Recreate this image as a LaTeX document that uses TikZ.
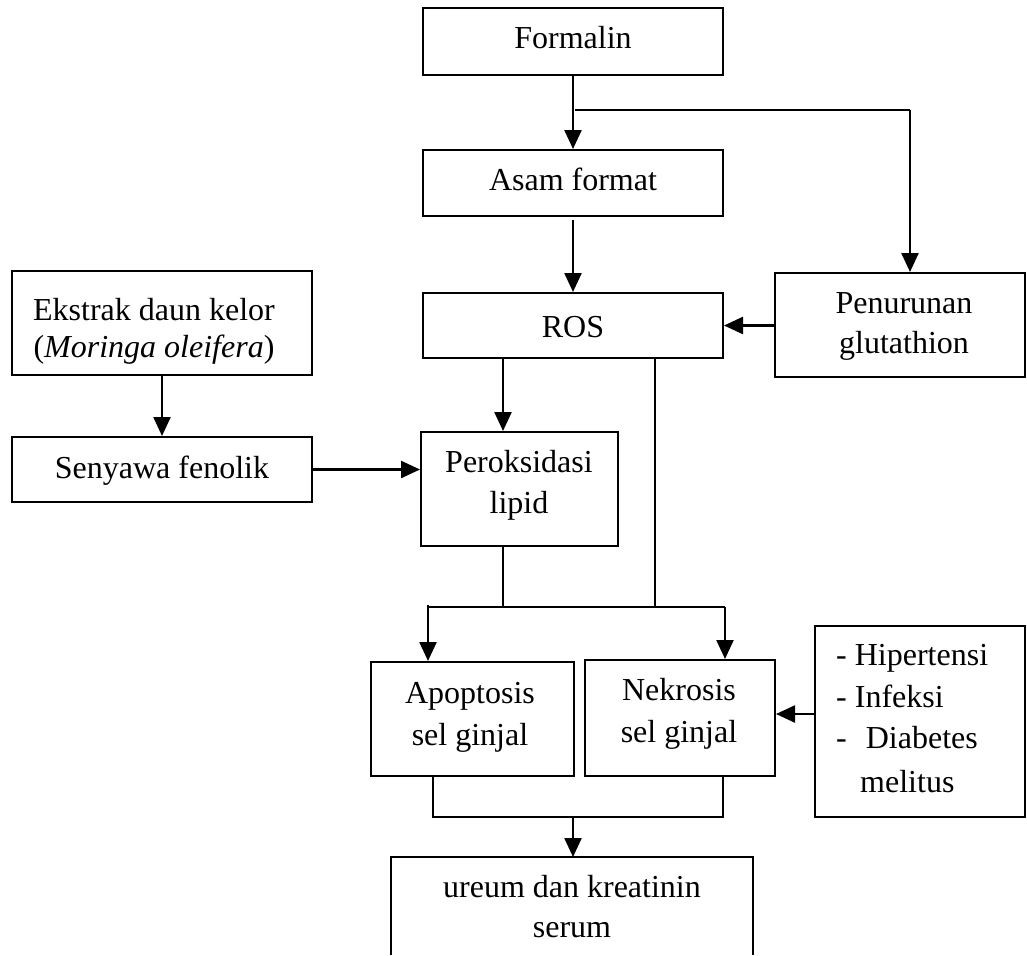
\documentclass[tikz,border=0pt]{standalone}
\usepackage{fontspec}
\setmainfont{Liberation Serif}
\usetikzlibrary{arrows.meta}
\begin{document}
\begin{tikzpicture}[x=1pt,y=-1pt,
  box/.style={draw,line width=2pt,inner sep=0pt,minimum width=#1},
  txt/.style={anchor=base,inner sep=0pt,font=\fontsize{32}{41}\selectfont},
  ltxt/.style={anchor=base west,inner sep=0pt,font=\fontsize{32}{41}\selectfont},
  arr/.style={line width=2.4pt,-{Triangle[length=19pt,width=17pt]}},
  ln/.style={line width=1.8pt}]
\useasboundingbox (0,0) rectangle (1027,955);
% boxes
\node[box=300pt,minimum height=67pt] (formalin) at (573,41.5) {};
\node[box=300pt,minimum height=66pt] (asam) at (573,183) {};
\node[box=300pt,minimum height=65pt] (ros) at (573,325.5) {};
\node[box=250pt,minimum height=104pt] (penurunan) at (900,325) {};
\node[box=300pt,minimum height=104pt] (ekstrak) at (162,323) {};
\node[box=300pt,minimum height=65pt] (senyawa) at (162,469.5) {};
\node[box=197pt,minimum height=114pt] (perok) at (519.5,489) {};
\node[box=203pt,minimum height=114pt] (apop) at (472.5,719) {};
\node[box=190pt,minimum height=116pt] (nekro) at (680,718) {};
\node[box=210pt,minimum height=191pt] (hiper) at (920,721.5) {};
\node[inner sep=0pt,minimum width=362pt,minimum height=98pt,anchor=north] (ureum) at (572,857) {};
\draw[line width=2pt] (ureum.south west) -- (ureum.north west) -- (ureum.north east) -- (ureum.south east);
% texts
\node[txt] (tformalin) at (573,49) {Formalin};
\node[txt] (tasam) at (573,190) {Asam format};
\node[txt] (tros) at (573,337) {ROS};
\node[txt] (tpen1) at (904,313) {Penurunan};
\node[txt] (tpen2) at (904,353) {glutathion};
\node[txt] (tek1) at (154,320) {Ekstrak daun kelor};
\node[txt] (tek2) at (154,357) {(\textit{Moringa oleifera})};
\node[txt] (tsen) at (162,478) {Senyawa fenolik};
\node[txt] (tper1) at (519,472) {Peroksidasi};
\node[txt] (tper2) at (519,513) {lipid};
\node[txt] (tapo1) at (470,703) {Apoptosis};
\node[txt] (tapo2) at (470,745) {sel ginjal};
\node[txt] (tnek1) at (679,700) {Nekrosis};
\node[txt] (tnek2) at (679,742) {sel ginjal};
\node[ltxt] (th1) at (836,665) {- Hipertensi};
\node[ltxt] (th2) at (836,707) {- Infeksi};
\node[ltxt] (th3) at (836,748) {-\hspace{19pt}Diabetes};
\node[ltxt] (th4) at (860,792) {melitus};
\node[txt] (tur1) at (572,897) {ureum dan kreatinin};
\node[txt] (tur2) at (572,937) {serum};
% connectors
\coordinate (b1) at (575,110);
\coordinate (b2) at (910,110);
\draw[arr] (formalin.south) -- (asam.north);
\draw[ln] (b1) -- (b2);
\draw[arr] (b2) -- (penurunan.north -| b2);
\draw[arr] ([yshift=-3pt]asam.south) -- (ros.north);
\draw[arr] (penurunan.west |- ros.east) -- (ros.east);
\draw[arr] (ros.south -| perok.north) ++(-16.5,0) coordinate (r1) -- (r1 |- perok.north);
\draw[arr] (ekstrak.south) -- (senyawa.north);
\draw[arr] (senyawa.east) -- (perok.west |- senyawa.east);
\coordinate (j1) at (503,607);
\coordinate (j2) at (655,607);
\coordinate (jl) at (428,607);
\coordinate (jr) at (725,607);
\draw[ln] (perok.south -| j1) -- (j1);
\draw[ln] (ros.south -| j2) -- (j2);
\draw[ln] (jl) -- (jr);
\draw[arr] ([yshift=2pt]jl) -- (apop.north -| jl);
\draw[arr] (jr) -- (nekro.north -| jr);
\draw[arr] (hiper.west |- 0,714) -- (nekro.east |- 0,714);
\coordinate (k1) at (433,817);
\coordinate (k2) at (723,817);
\coordinate (k3) at (573,817);
\draw[ln] (apop.south -| k1) -- (k1) -- (k2) -- (nekro.south -| k2);
\draw[arr] (k3) -- (ureum.north -| k3);
\end{tikzpicture}
\end{document}
